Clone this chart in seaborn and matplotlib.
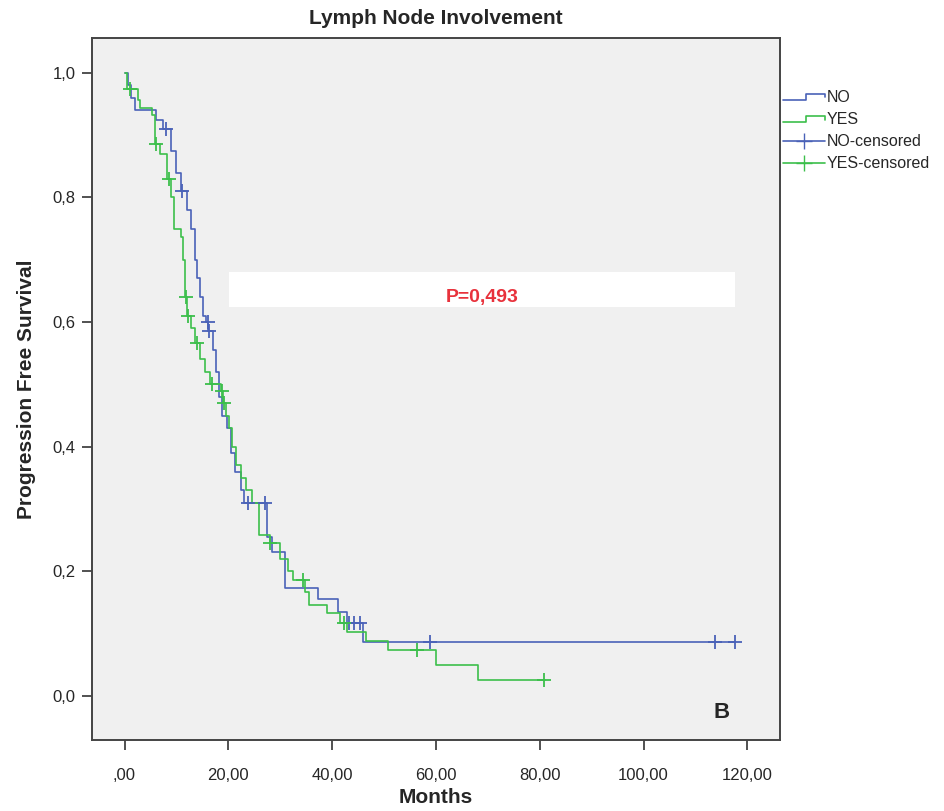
import numpy as np
import pandas as pd
import matplotlib
matplotlib.use("Agg")
import matplotlib.pyplot as plt
import seaborn as sns
from matplotlib.lines import Line2D
from matplotlib.legend_handler import HandlerBase

# --- valores (meses, supervivencia) ---
no_t = [0, 0.6, 1.2, 2.0, 6.0, 7.5, 9.0, 10.0, 10.8, 12.0, 12.8, 13.5, 14.0, 14.6,
        15.2, 15.7, 16.1, 17.0, 17.7, 18.2, 18.8, 19.8, 20.5, 21.3, 22.5, 23.0,
        27.5, 28.5, 31.0, 37.3, 41.1, 42.9, 46.0, 117.6]
no_s = [1.0, 0.98, 0.96, 0.94, 0.925, 0.91, 0.875, 0.84, 0.81, 0.78, 0.75, 0.70, 0.67, 0.64,
        0.61, 0.60, 0.585, 0.555, 0.52, 0.48, 0.45, 0.43, 0.39, 0.36, 0.33, 0.31,
        0.255, 0.231, 0.173, 0.156, 0.135, 0.117, 0.087, 0.087]
no_cens_t = [8.0, 11.1, 16.0, 16.3, 23.7, 27.0, 43.3, 44.3, 45.3, 58.8, 113.8, 117.6]
no_cens_s = [0.91, 0.81, 0.60, 0.585, 0.31, 0.31, 0.117, 0.117, 0.117, 0.087, 0.087, 0.087]

yes_t = [0, 0.5, 2.5, 3.0, 5.3, 5.8, 6.8, 8.2, 9.0, 9.6, 10.8, 11.2, 11.6, 12.1, 12.8,
         13.5, 14.5, 15.5, 16.5, 18.5, 19.0, 19.6, 20.2, 20.8, 21.5, 22.5, 23.5, 24.5,
         26.0, 28.0, 30.0, 31.5, 32.5, 34.8, 35.5, 39.0, 41.5, 42.8, 46.5, 50.8, 60.0,
         68.2, 81.0]
yes_s = [1.0, 0.974, 0.957, 0.944, 0.933, 0.886, 0.87, 0.83, 0.80, 0.75, 0.737, 0.70, 0.64,
         0.61, 0.59, 0.567, 0.54, 0.52, 0.50, 0.49, 0.47, 0.45, 0.43, 0.40, 0.37, 0.35,
         0.33, 0.31, 0.258, 0.245, 0.22, 0.20, 0.186, 0.167, 0.146, 0.133, 0.117, 0.103,
         0.088, 0.074, 0.05, 0.026, 0.026]
yes_cens_t = [1.1, 6.0, 8.6, 11.8, 12.3, 14.0, 16.9, 18.8, 19.2, 28.0, 34.3, 42.2, 56.3, 80.8]
yes_cens_s = [0.974, 0.886, 0.83, 0.64, 0.61, 0.567, 0.50, 0.49, 0.47, 0.245, 0.186, 0.117,
              0.074, 0.026]

grupos = ["NO", "YES"]
x_ticks = [0, 20, 40, 60, 80, 100, 120]
x_labels = [",00", "20,00", "40,00", "60,00", "80,00", "100,00", "120,00"]
y_ticks = [0.0, 0.2, 0.4, 0.6, 0.8, 1.0]
y_labels = ["0,0", "0,2", "0,4", "0,6", "0,8", "1,0"]

azul = "#4a62b8"
verde = "#3cbf4b"
paleta = {"NO": azul, "YES": verde}

df_curvas = pd.concat([
    pd.DataFrame({"Meses": no_t, "Surv": no_s, "Grupo": "NO"}),
    pd.DataFrame({"Meses": yes_t, "Surv": yes_s, "Grupo": "YES"}),
])
df_cens = pd.concat([
    pd.DataFrame({"Meses": no_cens_t, "Surv": no_cens_s, "Grupo": "NO"}),
    pd.DataFrame({"Meses": yes_cens_t, "Surv": yes_cens_s, "Grupo": "YES"}),
])

sns.set_style("white")
plt.rcParams["font.family"] = ["Liberation Sans", "DejaVu Sans"]

fig = plt.figure(figsize=(9.45, 8.11), dpi=100)
ax = fig.add_axes([0.0974, 0.0876, 0.728, 0.8656])
ax.set_facecolor("#f0f0f0")

# curvas escalonadas
for g in grupos:
    sub = df_curvas[df_curvas["Grupo"] == g]
    sns.lineplot(data=sub, x="Meses", y="Surv", color=paleta[g], drawstyle="steps-post",
                 estimator=None, sort=False, linewidth=1.2, ax=ax, legend=False)
# censurados
for g in grupos:
    sub = df_cens[df_cens["Grupo"] == g]
    sns.scatterplot(data=sub, x="Meses", y="Surv", color=paleta[g], marker="+", s=110,
                    linewidth=1.3, ax=ax, legend=False, zorder=3)

# caja con el valor p
ax.fill_between([20.1, 117.7], 0.624, 0.68, color="white", zorder=1, linewidth=0)
ax.text(68.9, 0.64, "P=0,493", color="#e8323c", fontsize=14, fontweight="bold",
        ha="center", va="center", zorder=4)
ax.text(115.1, -0.027, "B", fontsize=16, fontweight="bold", ha="center", va="center")

ax.set_xlim(-6.26, 126.3)
ax.set_ylim(-0.0706, 1.056)
ax.set_xticks(x_ticks)
ax.set_xticklabels(x_labels)
ax.set_yticks(y_ticks)
ax.set_yticklabels(y_labels)
ax.tick_params(axis="both", direction="out", length=7, width=1.2, color="#333333",
               labelsize=12, bottom=True, left=True)
ax.tick_params(axis="x", pad=13)
ax.tick_params(axis="y", pad=5)
for sp in ax.spines.values():
    sp.set_color("#444444")
    sp.set_linewidth(1.4)

ax.set_xlabel("Months", fontsize=15, fontweight="bold", labelpad=4)
ax.set_ylabel("Progression Free Survival", fontsize=15, fontweight="bold", labelpad=12)
ax.set_title("Lymph Node Involvement", fontsize=15, fontweight="bold", pad=10)


# icono escalonado para la leyenda
class HandlerEscalon(HandlerBase):
    def create_artists(self, legend, orig_handle, xdescent, ydescent, width, height,
                       fontsize, trans):
        xs = np.array([0, 0.55, 0.55, 1.0, 1.0]) * width - xdescent
        ys = np.array([0.2, 0.2, 0.75, 0.75, 0.4]) * height - ydescent
        linea = Line2D(xs, ys, color=orig_handle.get_color(), linewidth=1.2, transform=trans)
        return [linea]


h_no = Line2D([], [], color=azul)
h_yes = Line2D([], [], color=verde)
h_no_c = Line2D([], [], color=azul, marker="+", markersize=11, linewidth=1.2)
h_yes_c = Line2D([], [], color=verde, marker="+", markersize=11, linewidth=1.2)
fig.legend([h_no, h_yes, h_no_c, h_yes_c], ["NO", "YES", "NO-censored", "YES-censored"],
           handler_map={h_no: HandlerEscalon(), h_yes: HandlerEscalon()},
           loc="upper left", bbox_to_anchor=(0.822, 0.897), frameon=False, fontsize=11.5,
           handlelength=2.6, handletextpad=0.1, labelspacing=0.45, borderaxespad=0)

fig.savefig("out.png", dpi=100, facecolor="white")
